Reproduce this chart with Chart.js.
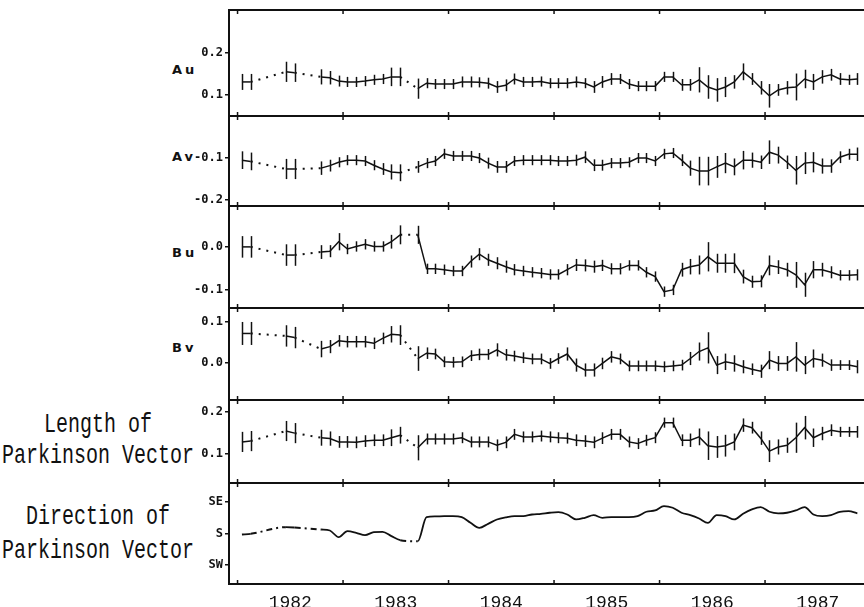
<!DOCTYPE html>
<html>
<head>
<meta charset="utf-8">
<script src="https://cdn.jsdelivr.net/npm/chart.js@4.4.1/dist/chart.umd.min.js"></script>
<style>
html, body { margin: 0; padding: 0; background: #fff; }
#wrap { position: relative; width: 864px; height: 607px; overflow: hidden; background: #fff; }
#wrap canvas { position: absolute; left: 0; }
.tag { position: absolute; left: 172px; font: bold 13px 'DejaVu Sans'; letter-spacing: 3px; line-height: 14px; color: #111; }
.big { position: absolute; left: 0; width: 196px; text-align: center; font: 20px 'Liberation Mono'; line-height: 20px;
       transform: scaleY(1.4); white-space: nowrap; color: #111; }
</style>
</head>
<body>
<div id="wrap">
  <div class="tag" style="top:63px">Au</div>
  <div class="tag" style="top:150px">Av</div>
  <div class="tag" style="top:246px">Bu</div>
  <div class="tag" style="top:341px">Bv</div>
  <div class="big" style="top:415px">Length of</div>
  <div class="big" style="top:446px">Parkinson Vector</div>
  <div class="big" style="top:507px">Direction of</div>
  <div class="big" style="top:541px">Parkinson Vector</div>
</div>
<script>
// months counted from January 1982 (0 = Jan 1982)
const months = [0, 1, 5, 6, 9, 10, 11, 12, 13, 14, 15, 16, 17, 18,
  20, 21, 22, 23, 24, 25, 26, 27, 28, 29, 30,
  31, 32, 33, 34, 35, 36, 37, 38, 39, 40,
  41, 42, 43, 44, 45, 46, 47, 48, 49, 50,
  51, 52, 53, 54, 55, 56, 57, 58, 59, 60,
  61, 62, 63, 64, 65, 66, 67, 68, 69, 70];

const years = ['1982', '1983', '1984', '1985', '1986', '1987'];

// Au
const auValues = [0.131, 0.131, 0.155, 0.153, 0.143, 0.141, 0.133, 0.131, 0.131, 0.133, 0.136, 0.138, 0.143, 0.143,
  0.115, 0.128, 0.126, 0.126, 0.126, 0.131, 0.131, 0.130, 0.128, 0.119, 0.123,
  0.138, 0.131, 0.131, 0.132, 0.128, 0.128, 0.128, 0.131, 0.128, 0.119,
  0.131, 0.138, 0.138, 0.126, 0.121, 0.121, 0.121, 0.143, 0.143, 0.124,
  0.124, 0.136, 0.119, 0.112, 0.119, 0.131, 0.155, 0.138, 0.117, 0.098,
  0.112, 0.117, 0.119, 0.138, 0.131, 0.143, 0.148, 0.138, 0.136, 0.138];
const auErrors = [0.019, 0.019, 0.024, 0.022, 0.018, 0.016, 0.013, 0.012, 0.012, 0.012, 0.012, 0.012, 0.022, 0.022,
  0.024, 0.012, 0.012, 0.012, 0.012, 0.013, 0.013, 0.012, 0.013, 0.014, 0.014,
  0.013, 0.012, 0.012, 0.012, 0.012, 0.012, 0.012, 0.013, 0.012, 0.014,
  0.014, 0.014, 0.012, 0.012, 0.012, 0.012, 0.012, 0.012, 0.012, 0.014,
  0.014, 0.030, 0.028, 0.028, 0.024, 0.016, 0.020, 0.014, 0.016, 0.028,
  0.014, 0.016, 0.032, 0.022, 0.019, 0.016, 0.014, 0.014, 0.012, 0.014];

// Av
const avValues = [-0.105, -0.108, -0.126, -0.126, -0.124, -0.118, -0.110, -0.105, -0.105, -0.107, -0.117, -0.126, -0.133, -0.135,
  -0.121, -0.112, -0.107, -0.090, -0.095, -0.095, -0.095, -0.100, -0.112, -0.121, -0.121,
  -0.107, -0.105, -0.105, -0.105, -0.105, -0.107, -0.107, -0.105, -0.098, -0.117,
  -0.117, -0.112, -0.112, -0.110, -0.100, -0.100, -0.107, -0.090, -0.088, -0.105,
  -0.124, -0.131, -0.131, -0.121, -0.112, -0.121, -0.105, -0.105, -0.110, -0.086,
  -0.093, -0.110, -0.129, -0.112, -0.110, -0.119, -0.119, -0.098, -0.091, -0.091];
const avErrors = [0.021, 0.021, 0.024, 0.024, 0.016, 0.014, 0.012, 0.012, 0.012, 0.012, 0.012, 0.014, 0.018, 0.020,
  0.014, 0.012, 0.012, 0.012, 0.012, 0.012, 0.012, 0.012, 0.013, 0.014, 0.014,
  0.012, 0.012, 0.012, 0.012, 0.012, 0.012, 0.012, 0.013, 0.014, 0.014,
  0.013, 0.012, 0.012, 0.012, 0.012, 0.012, 0.012, 0.012, 0.012, 0.014,
  0.018, 0.034, 0.034, 0.026, 0.024, 0.020, 0.022, 0.018, 0.016, 0.028,
  0.020, 0.016, 0.034, 0.026, 0.024, 0.018, 0.016, 0.014, 0.013, 0.016];

// Bu
const buValues = [0.000, 0.000, -0.019, -0.019, -0.012, -0.010, 0.012, -0.005, 0.001, 0.006, 0.001, 0.001, 0.012, 0.028,
  0.028, -0.051, -0.051, -0.053, -0.056, -0.056, -0.034, -0.017, -0.030, -0.038, -0.046,
  -0.053, -0.056, -0.059, -0.061, -0.064, -0.064, -0.053, -0.042, -0.043, -0.046,
  -0.043, -0.051, -0.051, -0.043, -0.043, -0.059, -0.069, -0.104, -0.100, -0.053,
  -0.046, -0.042, -0.023, -0.038, -0.038, -0.038, -0.069, -0.081, -0.080, -0.043,
  -0.047, -0.053, -0.065, -0.088, -0.053, -0.053, -0.059, -0.066, -0.066, -0.065];
const buErrors = [0.025, 0.025, 0.025, 0.025, 0.016, 0.014, 0.020, 0.012, 0.012, 0.012, 0.012, 0.012, 0.016, 0.022,
  0.021, 0.012, 0.012, 0.012, 0.012, 0.012, 0.014, 0.014, 0.014, 0.014, 0.014,
  0.013, 0.012, 0.012, 0.012, 0.012, 0.012, 0.013, 0.014, 0.014, 0.014,
  0.013, 0.013, 0.013, 0.012, 0.012, 0.012, 0.012, 0.012, 0.012, 0.016,
  0.018, 0.022, 0.034, 0.022, 0.022, 0.023, 0.016, 0.014, 0.014, 0.023,
  0.016, 0.016, 0.030, 0.028, 0.020, 0.016, 0.014, 0.012, 0.012, 0.013];

// Bv
const bvValues = [0.072, 0.072, 0.066, 0.062, 0.034, 0.040, 0.054, 0.052, 0.052, 0.052, 0.048, 0.060, 0.070, 0.068,
  0.011, 0.024, 0.022, 0.003, 0.002, 0.003, 0.018, 0.021, 0.021, 0.032, 0.020,
  0.017, 0.013, 0.010, 0.010, -0.001, 0.011, 0.022, -0.005, -0.017, -0.017,
  -0.001, 0.015, 0.010, -0.007, -0.007, -0.007, -0.007, -0.009, -0.007, -0.005,
  0.011, 0.028, 0.037, -0.005, 0.003, -0.001, -0.009, -0.015, -0.020, 0.007,
  -0.001, -0.001, 0.015, -0.005, 0.011, 0.007, -0.005, -0.005, -0.005, -0.009];
const bvErrors = [0.028, 0.028, 0.026, 0.026, 0.020, 0.016, 0.014, 0.014, 0.014, 0.014, 0.014, 0.014, 0.020, 0.024,
  0.030, 0.014, 0.013, 0.013, 0.013, 0.013, 0.013, 0.014, 0.013, 0.016, 0.014,
  0.013, 0.013, 0.013, 0.013, 0.013, 0.013, 0.016, 0.016, 0.016, 0.016,
  0.014, 0.014, 0.013, 0.013, 0.013, 0.013, 0.013, 0.013, 0.013, 0.013,
  0.016, 0.022, 0.038, 0.022, 0.020, 0.020, 0.016, 0.014, 0.016, 0.022,
  0.018, 0.018, 0.036, 0.022, 0.022, 0.016, 0.014, 0.012, 0.012, 0.016];

// Length of Parkinson vector
const lenValues = [0.129, 0.131, 0.155, 0.150, 0.139, 0.137, 0.129, 0.129, 0.128, 0.131, 0.133, 0.133, 0.139, 0.145,
  0.115, 0.136, 0.136, 0.136, 0.136, 0.139, 0.129, 0.129, 0.129, 0.121, 0.128,
  0.147, 0.141, 0.141, 0.143, 0.141, 0.139, 0.138, 0.133, 0.131, 0.128,
  0.138, 0.147, 0.147, 0.129, 0.125, 0.133, 0.139, 0.175, 0.175, 0.133,
  0.133, 0.141, 0.120, 0.117, 0.120, 0.129, 0.169, 0.163, 0.138, 0.107,
  0.117, 0.121, 0.139, 0.163, 0.139, 0.149, 0.157, 0.153, 0.153, 0.153];
const lenErrors = [0.024, 0.024, 0.024, 0.024, 0.019, 0.017, 0.014, 0.014, 0.014, 0.014, 0.014, 0.014, 0.020, 0.020,
  0.030, 0.013, 0.013, 0.013, 0.013, 0.013, 0.013, 0.013, 0.013, 0.014, 0.014,
  0.013, 0.013, 0.013, 0.013, 0.013, 0.013, 0.013, 0.014, 0.014, 0.014,
  0.014, 0.013, 0.013, 0.013, 0.013, 0.013, 0.013, 0.012, 0.012, 0.014,
  0.016, 0.020, 0.034, 0.026, 0.026, 0.020, 0.016, 0.014, 0.016, 0.026,
  0.018, 0.018, 0.036, 0.028, 0.022, 0.016, 0.014, 0.012, 0.012, 0.014];

// Direction of Parkinson vector, degrees (SE = 135, S = 180, SW = 225)
const dirValues = [181.4, 180.4, 171.0, 171.5, 174.3, 175.7, 185.2, 176.7, 179.0, 182.4, 178.0, 177.6, 183.8, 189.5,
  191.0, 156.7, 155.7, 155.2, 155.2, 156.7, 164.8, 171.9, 166.2, 160.0, 157.0,
  155.2, 155.2, 152.9, 151.9, 150.4, 149.5, 152.9, 160.0, 157.6, 153.8,
  157.6, 156.7, 156.7, 156.7, 155.2, 149.0, 147.1, 141.0, 143.3, 150.4,
  153.8, 158.6, 164.8, 153.8, 155.2, 160.0, 151.9, 145.7, 142.4, 149.0,
  151.2, 150.4, 147.1, 142.4, 152.9, 155.2, 153.8, 149.0, 148.1, 151.2];
const dirTicks = [135, 180, 225];
const dirTickLabels = ['SE', 'S', 'SW'];

// x range in decimal years and panel layout
const X_MIN = 1981.919;
const X_MAX = 1987.938;
const PAD = 8;
const AXIS_H = 30;
const INK = '#111';

const monthToYear = m => 1982 + (m + 0.5) / 12;
const isGap = ctx => ctx.p1.parsed.x - ctx.p0.parsed.x > 1.5 / 12;

// draws vertical error bars through each point
const errorBars = {
    id: 'errorBars',
    afterDatasetsDraw(chart) {
        const xs = chart.scales.x, ys = chart.scales.y, ctx = chart.ctx;
        chart.data.datasets.forEach(ds => {
            if (!ds.errors) return;
            ctx.save();
            ctx.strokeStyle = INK;
            ctx.lineWidth = 1.5;
            ds.data.forEach((p, i) => {
                const e = ds.errors[i];
                const px = Math.round(xs.getPixelForValue(p.x)) + 0.5;
                ctx.beginPath();
                ctx.moveTo(px, ys.getPixelForValue(p.y + e));
                ctx.lineTo(px, ys.getPixelForValue(p.y - e));
                ctx.stroke();
            });
            ctx.restore();
        });
    }
};

// panel frame: top and bottom rules with year marks
const frame = {
    id: 'frame',
    afterDraw(chart) {
        const a = chart.chartArea, xs = chart.scales.x, ctx = chart.ctx;
        ctx.save();
        ctx.strokeStyle = INK;
        ctx.lineWidth = 2;
        ctx.beginPath();
        ctx.moveTo(a.left - 1, a.top); ctx.lineTo(a.right, a.top);
        ctx.moveTo(a.left - 1, a.bottom); ctx.lineTo(a.right, a.bottom);
        ctx.stroke();
        ctx.lineWidth = 1.5;
        years.forEach(y => {
            const px = xs.getPixelForValue(Number(y));
            ctx.beginPath();
            ctx.moveTo(px, a.top); ctx.lineTo(px, a.top + 4);
            ctx.moveTo(px, a.bottom - 4); ctx.lineTo(px, a.bottom);
            ctx.stroke();
        });
        ctx.restore();
    }
};

const fmt = v => (Math.abs(v) < 1e-9 ? '0.0' : v.toFixed(1));

function makePanel(p) {
    const last = !!p.last;
    const canvas = document.createElement('canvas');
    const h = p.bottom - p.top + PAD + (last ? AXIS_H : PAD);
    canvas.width = 864;
    canvas.height = h;
    canvas.style.top = (p.top - PAD) + 'px';
    canvas.style.width = '864px';
    canvas.style.height = h + 'px';
    document.getElementById('wrap').appendChild(canvas);

    const data = months.map((m, i) => ({ x: monthToYear(m), y: p.values[i] }));

    new Chart(canvas.getContext('2d'), {
        type: 'line',
        data: {
            datasets: [{
                data: data,
                errors: p.errors,
                borderColor: INK,
                borderWidth: p.errors ? 1.5 : 1.8,
                pointRadius: 0,
                cubicInterpolationMode: p.errors ? 'default' : 'monotone',
                tension: p.errors ? 0 : 0.4,
                segment: {
                    borderDash: ctx => isGap(ctx) ? p.gapDash : undefined,
                    borderWidth: ctx => isGap(ctx) ? 2 : undefined
                }
            }]
        },
        options: {
            responsive: false,
            animation: false,
            events: [],
            layout: { padding: { top: PAD, bottom: last ? 0 : PAD, left: 0, right: 0 } },
            plugins: { legend: { display: false }, tooltip: { enabled: false } },
            scales: {
                x: {
                    type: 'linear',
                    min: X_MIN,
                    max: X_MAX,
                    display: last,
                    afterBuildTicks: s => { s.ticks = years.map(y => ({ value: Number(y) + 0.5 })); },
                    afterFit: s => {
                        s.height = last ? AXIS_H : 0;
                        s.paddingLeft = 0;
                        s.paddingRight = 0;
                    },
                    ticks: {
                        callback: v => String(Math.floor(v)),
                        font: { family: 'Liberation Mono', size: 18 },
                        color: INK,
                        padding: 8,
                        maxRotation: 0,
                        autoSkip: false
                    },
                    grid: { display: false, drawTicks: false },
                    border: { display: false }
                },
                y: {
                    type: 'linear',
                    min: p.min,
                    max: p.max,
                    reverse: !!p.reverse,
                    afterBuildTicks: s => { s.ticks = p.ticks.map(v => ({ value: v })); },
                    afterFit: s => { s.width = 229; s.paddingTop = 0; s.paddingBottom = 0; },
                    ticks: {
                        callback: p.labels || fmt,
                        font: { family: 'DejaVu Sans Mono', weight: 'bold', size: 12 },
                        color: INK,
                        padding: 2
                    },
                    grid: { drawOnChartArea: false, tickLength: 4, color: INK, lineWidth: 1.5 },
                    border: { color: INK, width: 2 }
                }
            }
        },
        plugins: [errorBars, frame]
    });
}

window.onload = () => {
    const dotted = [2, 6];
    makePanel({ top: 10, bottom: 116, min: 0.05, max: 0.302, ticks: [0.1, 0.2], values: auValues, errors: auErrors, gapDash: dotted });
    makePanel({ top: 116, bottom: 206, min: -0.214, max: 0.0, ticks: [-0.2, -0.1], values: avValues, errors: avErrors, gapDash: dotted });
    makePanel({ top: 206, bottom: 308, min: -0.142, max: 0.095, ticks: [-0.1, 0.0], values: buValues, errors: buErrors, gapDash: dotted });
    makePanel({ top: 308, bottom: 400, min: -0.090, max: 0.134, ticks: [0.0, 0.1], values: bvValues, errors: bvErrors, gapDash: dotted });
    makePanel({ top: 400, bottom: 483, min: 0.031, max: 0.229, ticks: [0.1, 0.2], values: lenValues, errors: lenErrors, gapDash: dotted });
    makePanel({
        top: 483, bottom: 584, min: 108, max: 252, reverse: true, ticks: dirTicks,
        labels: (v, i) => dirTickLabels[dirTicks.indexOf(v)],
        values: dirValues, errors: null, gapDash: [6, 4, 2, 4], last: true
    });
};
</script>
</body>
</html>
